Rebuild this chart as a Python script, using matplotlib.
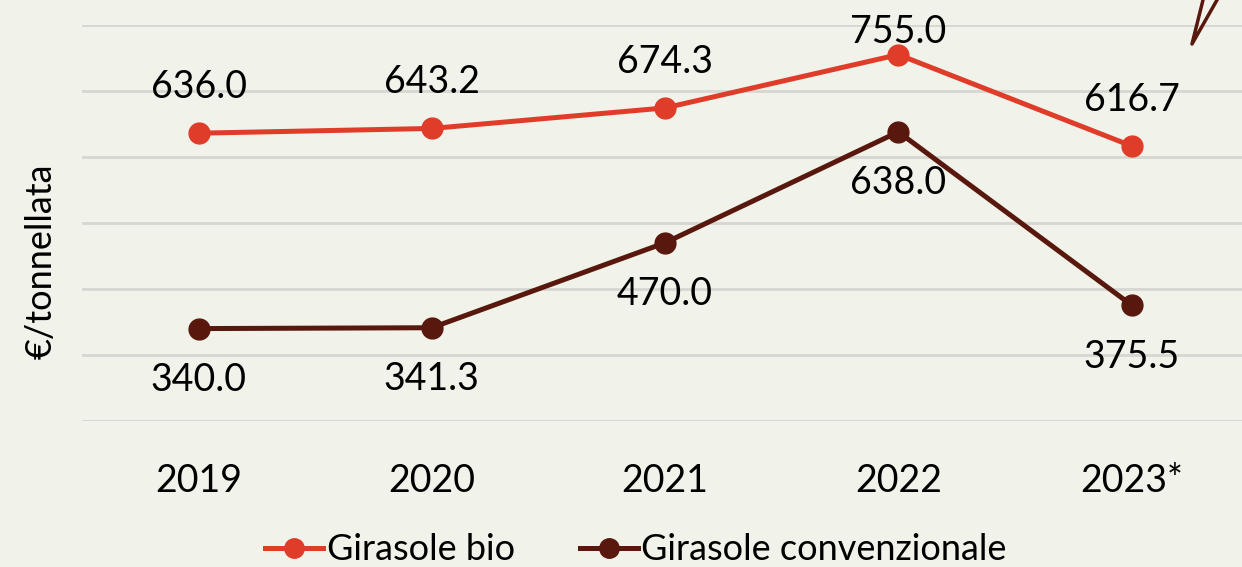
import matplotlib.pyplot as plt
from matplotlib.lines import Line2D

years = ["2019", "2020", "2021", "2022", "2023*"]
bio = [636.0, 643.2, 674.3, 755.0, 616.7]
conv = [340.0, 341.3, 470.0, 638.0, 375.5]
series_names = ["Girasole bio", "Girasole convenzionale"]

BG = "#F1F2E9"
RED = "#E03C2A"
BROWN = "#58180D"
FONT = "Lato"

plt.rcParams['font.family'] = [FONT, 'DejaVu Sans']

fig = plt.figure(figsize=(12.42, 5.67), dpi=100, facecolor=BG)
ax = fig.add_axes([0.066, 0.2575, 0.939, 0.6985], facecolor=BG)

x = list(range(len(years)))
ax.plot(x, bio, color=RED, lw=3.6, marker="o", ms=15, zorder=3)
ax.plot(x, conv, color=BROWN, lw=3.6, marker="o", ms=15, zorder=3)

# data labels: bio above, conventional below (capped at top of plot area)
for i, v in enumerate(bio):
    ax.text(i, min(v + 70, 790), f"{v:.1f}", ha="center", va="center",
            fontsize=27, color="black")
for i, v in enumerate(conv):
    ax.text(i, v - 78, f"{v:.1f}", ha="center", va="center",
            fontsize=27, color="black")

ax.set_xlim(-0.5, len(years) - 0.5)
ax.set_ylim(200, 800)
ax.set_yticks(range(200, 801, 100))
ax.set_yticklabels([])
ax.tick_params(axis="y", length=0)
ax.grid(axis="y", color="#D6D6D2", lw=2)
ax.set_axisbelow(True)
ax.set_xticks(x)
ax.set_xticklabels(years, fontsize=27)
ax.tick_params(axis="x", length=0, pad=30)
for s in ax.spines.values():
    s.set_visible(False)

fig.text(0.033, 0.54, "€/tonnellata", rotation=90, ha="center", va="center",
         fontsize=26, color="black")

handles = [
    Line2D([], [], color=RED, lw=3.6, marker="o", ms=14),
    Line2D([], [], color=BROWN, lw=3.6, marker="o", ms=14),
]
fig.legend(handles, series_names, loc="center", bbox_to_anchor=(0.512, 0.03),
           ncol=2, frameon=False, fontsize=26, handlelength=1.6,
           handletextpad=0.1, columnspacing=1.8)

# decorative stroke in the top-right corner
fig.add_artist(Line2D([1203 / 1242, 1192 / 1242, 1217 / 1242],
                      [1.0, 1 - 44 / 567, 1.0], color=BROWN, lw=2.5,
                      transform=fig.transFigure))

fig.savefig("out.png", dpi=100, facecolor=BG)
